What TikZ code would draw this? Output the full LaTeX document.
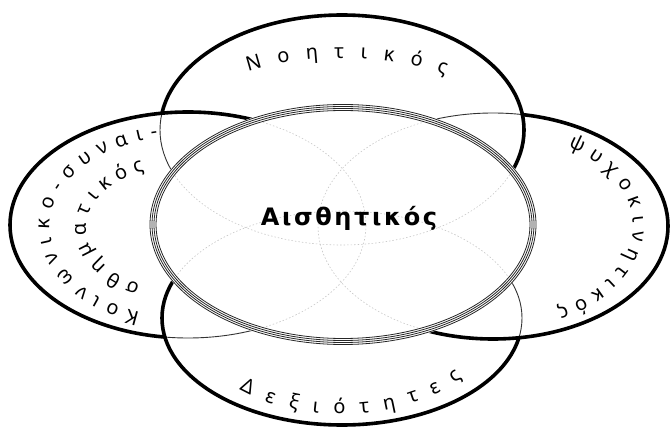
\documentclass[tikz,border=0pt]{standalone}
\usepackage{fontspec}
\setmainfont{Noto Sans}
\newfontfamily\ctrfont{DejaVu Sans}[LetterSpace=11]
\usetikzlibrary{decorations.text}

\def\myEllT{(342,-130) ellipse [x radius=182, y radius=115]}
\def\myEllB{(342,-318) ellipse [x radius=180, y radius=107]}
\def\myEllL{(188,-225) ellipse [x radius=178, y radius=113]}
\def\myEllR{(493,-226) ellipse [x radius=175, y radius=113]}
\def\myEllC{(343,-224.5) ellipse [x radius=194, y radius=121]}
\def\myEllCin{(343,-224.5) ellipse [x radius=186, y radius=113]}
\def\myBox{(-30,30) rectangle (710,-470)}

\begin{document}
\begin{tikzpicture}[x=1pt,y=1pt,
  heavy/.style={line width=3.6pt, black},
  light/.style={line width=0.9pt, black!80},
  faint/.style={line width=0.6pt, black!22, dash pattern=on 1.5pt off 2pt},
  ring/.style={line width=0.8pt, black!85},
  curvedlabel/.style={decorate, decoration={text along path, text align={fit to path}}}]
\useasboundingbox (0,0) rectangle (671,-435);

% faint continuation of outer ellipses inside the central one
\begin{scope}
  \clip \myEllCin;
  \draw[faint] \myEllT;
  \draw[faint] \myEllB;
  \draw[faint] \myEllL;
  \draw[faint] \myEllR;
\end{scope}

% thin full outlines outside the central ellipse
\begin{scope}[even odd rule]
  \clip \myBox \myEllC;
  \draw[light] \myEllT;
  \draw[light] \myEllB;
  \draw[light] \myEllL;
  \draw[light] \myEllR;
  % heavy parts (pinwheel overlap)
  \begin{scope}
    \clip \myBox \myEllL;
    \draw[heavy] \myEllT;
  \end{scope}
  \begin{scope}
    \clip \myBox \myEllB;
    \draw[heavy] \myEllL;
  \end{scope}
  \begin{scope}
    \clip \myBox \myEllR;
    \draw[heavy] \myEllB;
  \end{scope}
  \begin{scope}
    \clip \myBox \myEllT;
    \draw[heavy] \myEllR;
  \end{scope}
\end{scope}

% central multi-ring ellipse
\foreach \d in {0,2,4,6}{
  \draw[ring] (343,-224.5) ellipse [x radius=193-\d, y radius=120-\d];
}

\node[font=\ctrfont\fontsize{24}{24}\selectfont\bfseries] (ctr) at (349,-218) {Αισθητικός};

% curved labels
\path[curvedlabel, decoration={text={|\fontsize{20}{20}\selectfont|Νοητικός}}, shift={(342,-130)}]
  (125.7:161 and 72) arc[start angle=125.7, end angle=49.8, x radius=161, y radius=72];

\path[curvedlabel, decoration={text={|\fontsize{20}{20}\selectfont|Δεξιότητες}}, shift={(342,-318)}]
  (-131.8:153 and 96) arc[start angle=-131.8, end angle=-38.3, x radius=153, y radius=96];

\path[curvedlabel, decoration={text={|\fontsize{20}{20}\selectfont|ψυχοκινητικός}}, shift={(495,-226)}]
  (58:138 and 93) arc[start angle=58, end angle=-63, x radius=138, y radius=93];

\path[curvedlabel, decoration={text={|\fontsize{20}{20}\selectfont|Κοινωνικο-συναι-}}, shift={(185,-227)}]
  (250.5:135 and 91) arc[start angle=250.5, end angle=101.5, x radius=135, y radius=91];

\path[curvedlabel, decoration={text={|\fontsize{20}{20}\selectfont|σθηματικός}}, shift={(185,-228)}]
  (243:99 and 63) arc[start angle=243, end angle=114, x radius=99, y radius=63];
\end{tikzpicture}
\end{document}
